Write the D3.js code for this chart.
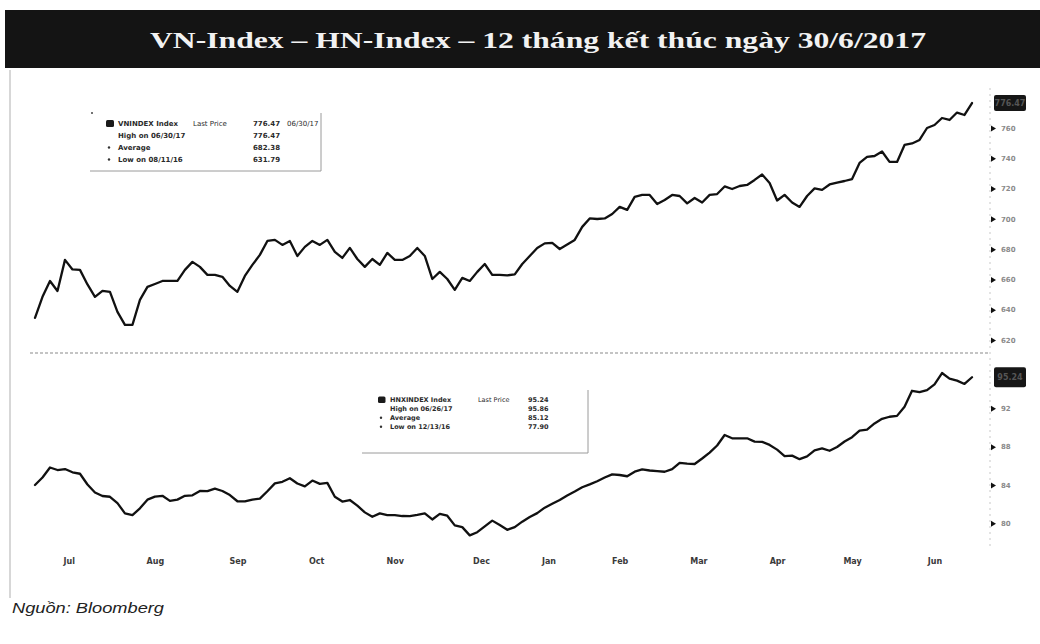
<!DOCTYPE html>
<html>
<head>
<meta charset="utf-8">
<script src="https://cdn.jsdelivr.net/npm/d3@7/dist/d3.min.js"></script>
<style>
  html, body { margin: 0; padding: 0; background: #fff; }
  svg { display: block; }
</style>
</head>
<body>
<script>
// ---------- DATA ----------
const titleText = "VN-Index – HN-Index – 12 tháng kết thúc ngày 30/6/2017";
const sourceText = "Nguồn: Bloomberg";

// one value every 2 trading sessions, from 01/07/2016 to 30/06/2017
const sessionStep = 2;
const vnValues = [
  634.6, 648.5, 659.0, 652.4, 672.9, 666.6, 666.3, 656.7, 648.5, 652.4,
  651.8, 638.6, 630.0, 630.0, 646.5, 655.1, 657.0, 659.0, 659.0, 659.0,
  666.3, 671.6, 668.3, 663.0, 663.0, 661.7, 655.7, 651.8, 662.3, 669.6,
  676.2, 685.4, 686.1, 682.8, 685.4, 675.5, 681.5, 685.4, 682.8, 686.1,
  678.2, 674.2, 680.8, 673.5, 668.3, 673.5, 669.6, 677.5, 672.9, 672.9,
  675.5, 680.8, 675.5, 660.3, 665.0, 660.3, 653.1, 661.0, 659.0, 665.0,
  670.2, 663.0, 663.0, 662.7, 663.3, 670.2, 675.5, 680.8, 683.8, 684.1,
  680.1, 683.1, 686.1, 694.7, 700.3, 699.9, 700.3, 703.2, 707.9, 705.9,
  714.5, 715.8, 715.8, 709.8, 712.5, 715.8, 715.1, 710.2, 713.8, 710.8,
  715.8, 716.4, 721.4, 719.7, 721.7, 722.4, 725.7, 729.3, 723.7, 712.1,
  715.8, 710.8, 707.9, 715.1, 720.1, 719.1, 722.7, 724.0, 725.0, 726.3,
  736.9, 740.9, 741.5, 744.5, 737.6, 737.6, 748.8, 749.8, 752.1, 760.0,
  762.0, 766.6, 765.3, 770.2, 768.6, 776.47
];
const hnxValues = [
  84.00, 84.78, 85.82, 85.56, 85.66, 85.32, 85.17, 84.05, 83.22, 82.85,
  82.77, 82.11, 81.04, 80.86, 81.56, 82.47, 82.79, 82.87, 82.34, 82.47,
  82.87, 82.92, 83.37, 83.35, 83.61, 83.37, 82.95, 82.30, 82.28, 82.48,
  82.57, 83.34, 84.17, 84.33, 84.70, 84.15, 83.86, 84.46, 84.11, 84.22,
  82.77, 82.27, 82.43, 81.84, 81.14, 80.68, 81.04, 80.86, 80.86, 80.76,
  80.74, 80.88, 81.04, 80.40, 80.99, 80.79, 79.78, 79.60, 78.74, 79.07,
  79.68, 80.28, 79.82, 79.32, 79.60, 80.17, 80.66, 81.06, 81.63, 82.04,
  82.44, 82.91, 83.32, 83.76, 84.06, 84.39, 84.78, 85.11, 85.04, 84.91,
  85.39, 85.62, 85.51, 85.44, 85.38, 85.65, 86.30, 86.23, 86.19, 86.76,
  87.37, 88.12, 89.21, 88.87, 88.87, 88.87, 88.52, 88.50, 88.18, 87.69,
  87.02, 87.06, 86.69, 86.98, 87.62, 87.82, 87.57, 87.96, 88.53, 88.99,
  89.67, 89.77, 90.42, 90.90, 91.12, 91.21, 92.17, 93.83, 93.68, 93.89,
  94.49, 95.68, 95.09, 94.89, 94.54, 95.24
];

const monthLabels   = ["Jul","Aug","Sep","Oct","Nov","Dec","Jan","Feb","Mar","Apr","May","Jun"];
const monthSessions = [9, 32, 54, 75, 96, 119, 137, 156, 177, 198, 218, 240];

const vnTicks  = [760, 740, 720, 700, 680, 660, 640, 620];
const hnxTicks = [92, 88, 84, 80];

const vnLegend = [
  ["VNINDEX Index", "Last Price", "776.47", "06/30/17"],
  ["High on 06/30/17", "", "776.47", ""],
  ["Average", "", "682.38", ""],
  ["Low on 08/11/16", "", "631.79", ""]
];
const hnxLegend = [
  ["HNXINDEX Index", "Last Price", "95.24", ""],
  ["High on 06/26/17", "", "95.86", ""],
  ["Average", "", "85.12", ""],
  ["Low on 12/13/16", "", "77.90", ""]
];

// ---------- DRAW ----------
const W = 1040, H = 644;
const svg = d3.select("body").append("svg").attr("width", W).attr("height", H);
svg.append("rect").attr("width", W).attr("height", H).attr("fill", "#fff");

// title bar
svg.append("rect").attr("x", 5).attr("y", 10).attr("width", W - 5).attr("height", 58).attr("fill", "#141414");
svg.append("text").attr("x", 150).attr("y", 48)
  .attr("textLength", 776).attr("lengthAdjust", "spacingAndGlyphs")
  .attr("font-family", "Liberation Serif, DejaVu Serif, serif")
  .attr("font-size", 23).attr("font-weight", "bold").attr("fill", "#f2f2f2")
  .text(titleText);

// left frame line
svg.append("line").attr("x1", 10).attr("x2", 10).attr("y1", 70).attr("y2", 598)
  .attr("stroke", "#bdbdbd").attr("stroke-width", 1.2);

const x = d3.scaleLinear().domain([0, 250]).range([35, 972]);
const yVN = d3.scaleLinear().domain([620, 760]).range([340, 128]);
const yHN = d3.scaleLinear().domain([80, 92]).range([523.3, 408.3]);

// panel separator and right axis rule
svg.append("line").attr("x1", 30).attr("x2", 990).attr("y1", 353).attr("y2", 353)
  .attr("stroke", "#8a8a8a").attr("stroke-width", 1.2).attr("stroke-dasharray", "3,2");
svg.append("line").attr("x1", 990).attr("x2", 990).attr("y1", 88).attr("y2", 548)
  .attr("stroke", "#c8c8c8").attr("stroke-width", 1).attr("stroke-dasharray", "2,4");

// lines
const lineVN = d3.line().x((d, i) => x(i * sessionStep)).y(d => yVN(d)).curve(d3.curveLinear);
const lineHN = d3.line().x((d, i) => x(i * sessionStep)).y(d => yHN(d)).curve(d3.curveLinear);

svg.append("path").datum(vnValues).attr("d", lineVN)
  .attr("fill", "none").attr("stroke", "#111").attr("stroke-width", 2.3)
  .attr("stroke-linejoin", "round").attr("stroke-linecap", "round");
svg.append("path").datum(hnxValues).attr("d", lineHN)
  .attr("fill", "none").attr("stroke", "#111").attr("stroke-width", 2.3)
  .attr("stroke-linejoin", "round").attr("stroke-linecap", "round");

// right axes
function rightAxis(scale, ticks, gx) {
  const g = svg.append("g").attr("transform", `translate(${gx},0)`)
    .call(d3.axisRight(scale).tickValues(ticks).tickSize(0).tickPadding(9).tickFormat(d3.format("d")));
  g.select(".domain").remove();
  g.selectAll(".tick text").attr("font-family", "DejaVu Sans, sans-serif")
    .attr("font-size", 7).attr("fill", "#8a8a8a").attr("font-weight", "bold");
  g.selectAll(".tick").append("path").attr("d", "M-1,-3 L4,0 L-1,3 Z").attr("fill", "#111");
}
rightAxis(yVN, vnTicks, 992);
rightAxis(yHN, hnxTicks, 992);

// last price boxes
function lastBox(yv, label, h) {
  svg.append("rect").attr("x", 994).attr("y", yv - h / 2).attr("width", 32).attr("height", h)
    .attr("rx", 2).attr("fill", "#161616");
  svg.append("text").attr("x", 1010).attr("y", yv + 3).attr("text-anchor", "middle")
    .attr("font-family", "DejaVu Sans, sans-serif").attr("font-size", 8).attr("font-weight", "bold")
    .attr("fill", "#555").text(label);
}
lastBox(yVN(vnValues[vnValues.length - 1]), "776.47", 16);
lastBox(yHN(hnxValues[hnxValues.length - 1]), "95.24", 20);

// bottom axis
const gx = svg.append("g").attr("transform", "translate(0,563)")
  .call(d3.axisBottom(x).tickValues(monthSessions).tickSize(0).tickPadding(0)
    .tickFormat((d, i) => monthLabels[i]));
gx.select(".domain").remove();
gx.selectAll(".tick text").attr("font-family", "DejaVu Sans, sans-serif")
  .attr("font-size", 8).attr("font-weight", "bold").attr("fill", "#3a3a3a").attr("dy", "0.1em");

// legends
function legend(rows, o) {
  const g = svg.append("g").attr("font-family", "DejaVu Sans, sans-serif")
    .attr("font-size", o.fs).attr("font-weight", "bold").attr("fill", "#2a2a2a");
  rows.forEach((r, i) => {
    const yy = o.y0 + i * o.dy;
    if (i === 0) {
      g.append("rect").attr("x", o.ix).attr("y", yy - o.fs + 1).attr("width", o.fs + 1).attr("height", o.fs)
        .attr("rx", 1.5).attr("fill", "#1a1a1a");
    } else if (i >= 2) {
      g.append("circle").attr("cx", o.ix + 3).attr("cy", yy - o.fs / 2 + 1).attr("r", 1.2).attr("fill", "#333");
    }
    g.append("text").attr("x", o.tx).attr("y", yy).text(r[0]);
    if (r[1]) g.append("text").attr("x", o.c1).attr("y", yy).attr("font-weight", "normal").text(r[1]);
    g.append("text").attr("x", o.c2).attr("y", yy).text(r[2]);
    if (r[3]) g.append("text").attr("x", o.c3).attr("y", yy).attr("font-weight", "normal").text(r[3]);
  });
  svg.append("path").attr("d", `M${o.bx0},${o.by} H${o.bx1} V${o.bt}`)
    .attr("fill", "none").attr("stroke", "#9a9a9a").attr("stroke-width", 1);
}
legend(vnLegend, { fs: 7, y0: 126, dy: 12, ix: 106, tx: 118, c1: 193, c2: 253, c3: 287,
  bx0: 90, bx1: 321, by: 171, bt: 113 });
svg.append("circle").attr("cx", 92).attr("cy", 113).attr("r", 1).attr("fill", "#444");
legend(hnxLegend, { fs: 6.5, y0: 402, dy: 9, ix: 378, tx: 390, c1: 478, c2: 528, c3: 572,
  bx0: 362, bx1: 588, by: 453, bt: 390 });

// source
svg.append("text").attr("x", 12).attr("y", 613)
  .attr("textLength", 152).attr("lengthAdjust", "spacingAndGlyphs")
  .attr("font-family", "Liberation Sans, Arial, sans-serif").attr("font-style", "italic")
  .attr("font-size", 14).attr("fill", "#222").text(sourceText);
</script>
</body>
</html>
